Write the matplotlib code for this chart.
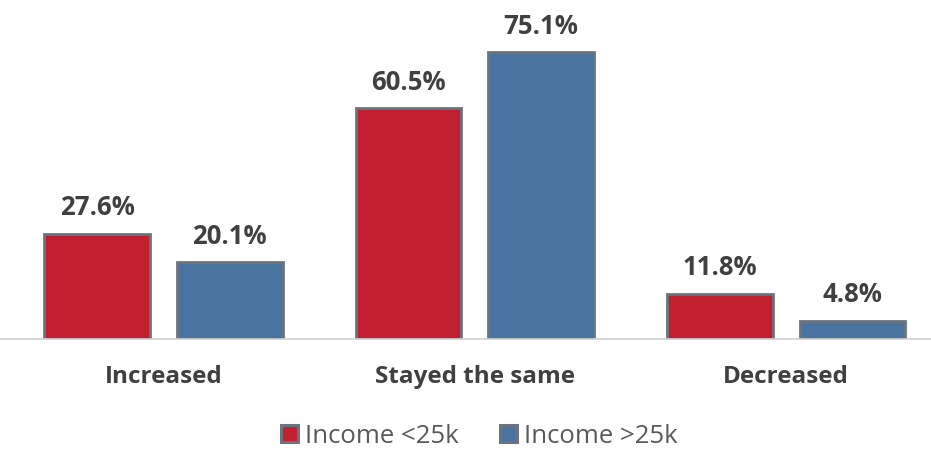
import matplotlib.pyplot as plt
import numpy as np
from matplotlib.patches import Patch

categories = ['Increased', 'Stayed the same', 'Decreased']
low_income = [27.6, 60.5, 11.8]
high_income = [20.1, 75.1, 4.8]
series_names = ['Income <25k', 'Income >25k']

red = '#C21F30'
blue = '#4A74A0'
edge = '#6B747E'

plt.rcParams['font.family'] = ['Open Sans', 'DejaVu Sans']

fig = plt.figure(figsize=(9.31, 4.49), dpi=100)
ax = fig.add_axes([0.0, 0.245, 1.0, 0.71])

x = np.arange(len(categories))
w = 0.34
off = 0.213
b1 = ax.bar(x - off, low_income, w, color=red, edgecolor=edge, linewidth=2)
b2 = ax.bar(x + off, high_income, w, color=blue, edgecolor=edge, linewidth=2)

for bars in (b1, b2):
    for r in bars:
        ax.annotate(f'{r.get_height():.1f}%', (r.get_x() + r.get_width() / 2, r.get_height()),
                    xytext=(0, 9), textcoords='offset points', ha='center', va='bottom',
                    fontsize=18.5, fontweight='bold', color='#404040')

ax.set_xlim(-0.525, 2.465)
ax.set_ylim(0, 83.5)
ax.set_yticks([])
ax.set_xticks(x)
ax.set_xticklabels(categories, fontsize=17.5, fontweight='bold', color='#404040')
ax.tick_params(axis='x', length=0, pad=19)
for s in ['top', 'right', 'left']:
    ax.spines[s].set_visible(False)
ax.spines['bottom'].set_color('#D0D0D0')
ax.spines['bottom'].set_linewidth(1.2)

handles = [Patch(facecolor=red, edgecolor=edge, linewidth=2.2),
           Patch(facecolor=blue, edgecolor=edge, linewidth=2.2)]
leg = fig.legend(handles, series_names, loc='center', bbox_to_anchor=(0.515, 0.028), ncol=2,
                 frameon=False, fontsize=18.5, handlelength=0.65, handleheight=0.65,
                 handletextpad=0.3, columnspacing=1.6)
for t in leg.get_texts():
    t.set_color('#595959')

fig.savefig('out.png', dpi=100)
